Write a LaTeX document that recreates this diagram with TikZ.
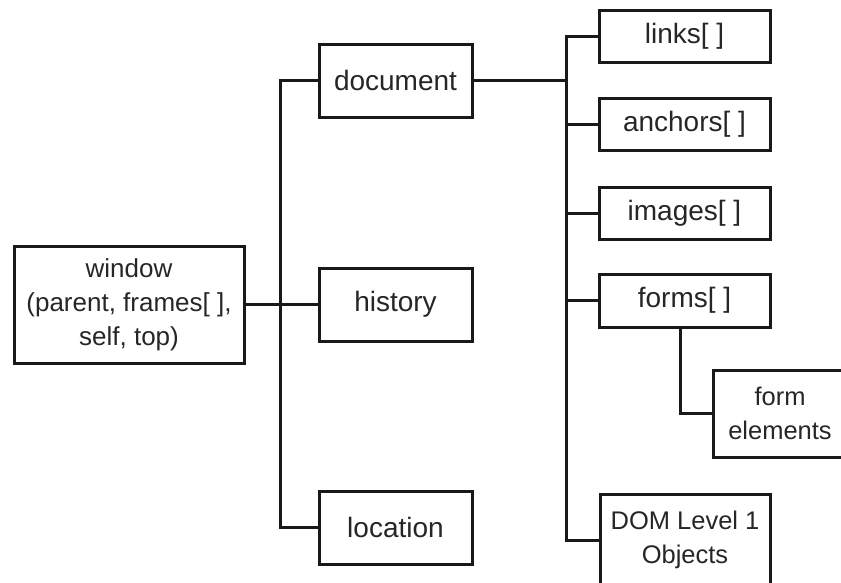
\documentclass[tikz,border=0pt]{standalone}
\usepackage{fontspec}
\setmainfont{Liberation Sans}
\begin{document}
\begin{tikzpicture}[x=1pt,y=-1pt,
  ln/.style={draw=black!90, line width=3pt, line cap=rect},
  box/.style={draw=black!90, line width=3pt, rectangle, inner sep=0pt, outer sep=0pt,
    align=center, text=black!85, font=\fontsize{28}{34}\selectfont},
  small/.style={font=\fontsize{25.5}{34}\selectfont}]
\useasboundingbox (0,0) rectangle (841,582);
\clip (0,0) rectangle (841,582);
\node[box, small, font=\fontsize{26}{34}\selectfont, minimum width=230pt, minimum height=117pt] (window) at (129,304.5)
  {window\\(parent, frames[ ],\\self, top)};
\node[box, minimum width=153pt, minimum height=73pt] (document) at (395.5,80.5) {document};
\node[box, minimum width=153pt, minimum height=73pt] (history) at (395.5,304.5) {history};
\node[box, minimum width=153pt, minimum height=73pt] (location) at (395.5,527.5) {location};
\node[box, minimum width=171pt, minimum height=52pt] (links) at (684.5,36) {links[ ]};
\node[box, minimum width=171pt, minimum height=52pt] (anchors) at (684.5,124) {anchors[ ]};
\node[box, minimum width=171pt, minimum height=52pt] (images) at (684.5,213) {images[ ]};
\node[box, minimum width=171pt, minimum height=53pt] (forms) at (684.5,300.5) {forms[ ]};
\node[box, small, minimum width=134pt, minimum height=87pt] (formel) at (780,413.5) {form\\elements};
\node[box, small, minimum width=170pt, minimum height=92pt] (dom) at (685,540) {DOM Level 1\\Objects};
% left trunk
\draw[ln] (window.east) -- (history.west);
\draw[ln] (document.west) -- ++(-39,0) |- (location.west);
% right trunk
\draw[ln] (document.east) -- ([xshift=-33pt]links.west |- document.east);
\draw[ln] (links.west) -- ++(-33,0) |- (dom.west);
\draw[ln] (anchors.west) -- ++(-33,0);
\draw[ln] (images.west) -- ++(-33,0);
\draw[ln] (forms.west) -- ++(-33,0);
% forms to form elements
\draw[ln] ([xshift=-4.5pt]forms.south) |- (formel.west);
\end{tikzpicture}
\end{document}
